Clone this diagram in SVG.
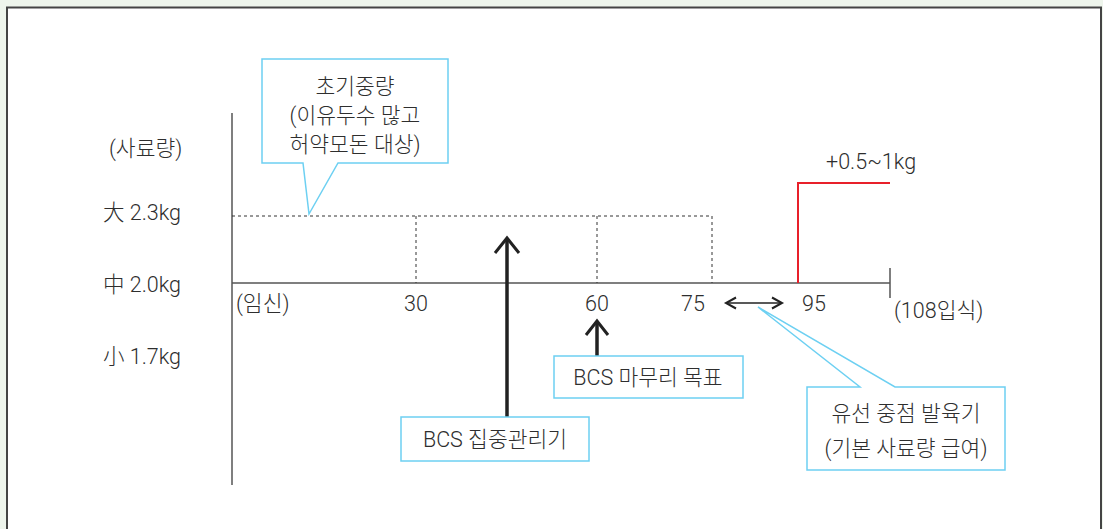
<svg xmlns="http://www.w3.org/2000/svg" width="1103" height="529" viewBox="0 0 1103 529">
<defs>
<style>
text{font-family:Roboto,"Noto Sans CJK KR",sans-serif;font-size:21.5px;fill:#2e2e2e;font-weight:300}
.c{text-anchor:middle}
.box{fill:#fff;stroke:#6dd0f2;stroke-width:1.5}
.axis{stroke:#555;stroke-width:1.5;fill:none}
.dash{stroke:#333;stroke-width:1;stroke-dasharray:3 3;fill:none}
.arr{stroke:#222;stroke-width:3.5;fill:none}
.head{stroke:#222;stroke-width:3;fill:none}
</style>
</defs>
<rect width="1103" height="529" fill="#eef5ec"/>
<rect x="7" y="7.5" width="1094" height="530" fill="#fff" stroke="#444" stroke-width="2"/>

<g id="axes">
<line class="axis" x1="232" y1="113" x2="232" y2="485"/>
<line class="axis" x1="232" y1="283" x2="890" y2="283"/>
<line class="axis" x1="890" y1="268" x2="890" y2="298"/>
<path class="dash" d="M232,216 H712 M416,216 V283 M597,216 V283 M712,216 V283"/>
<path d="M798,283 V183 H890" fill="none" stroke="#e8202a" stroke-width="2"/>
</g>

<g id="ylabels">
<text x="109" y="156">(사료량)</text>
<text x="103" y="220">大 2.3kg</text>
<text x="103" y="292">中 2.0kg</text>
<text x="103" y="364">小 1.7kg</text>
</g>

<g id="xlabels">
<text x="236" y="311">(임신)</text>
<text class="c" x="416" y="311">30</text>
<text class="c" x="597" y="311">60</text>
<text class="c" x="693" y="311">75</text>
<text class="c" x="814" y="311">95</text>
<text x="894" y="318">(108입식)</text>
<text x="826" y="169">+0.5~1kg</text>
</g>

<g id="connectors">
<line class="arr" x1="507" y1="417" x2="507" y2="239"/>
<path class="head" d="M495,253 L507,238 L519,253"/>
<line class="arr" x1="597" y1="356" x2="597" y2="322"/>
<path class="head" d="M586,335 L597,321 L608,335"/>
<line x1="727" y1="303" x2="781" y2="303" stroke="#222" stroke-width="1.5"/>
<path d="M736,297.5 L726,303 L736,308.5 M772,297.5 L782,303 L772,308.5" fill="none" stroke="#222" stroke-width="2"/>
</g>

<g id="callout-initial">
<path class="box" d="M303,163 H262 V59 H448 V163 H338 L309,214 Z"/>
<text class="c" x="355" y="94">초기중량</text>
<text class="c" x="355" y="123">(이유두수 많고</text>
<text class="c" x="355" y="152">허약모돈 대상)</text>
</g>

<g id="box-bcs-final">
<rect class="box" x="554" y="356" width="189" height="42"/>
<text class="c" x="648" y="385">BCS 마무리 목표</text>
</g>

<g id="box-bcs-focus">
<rect class="box" x="401" y="417" width="188" height="44"/>
<text class="c" x="495" y="447">BCS 집중관리기</text>
</g>

<g id="callout-lactation">
<path class="box" d="M860,387 H807 V470 H1005 V387 H895 L758,307 Z"/>
<text class="c" x="906" y="421">유선 중점 발육기</text>
<text class="c" x="906" y="456">(기본 사료량 급여)</text>
</g>
</svg>
